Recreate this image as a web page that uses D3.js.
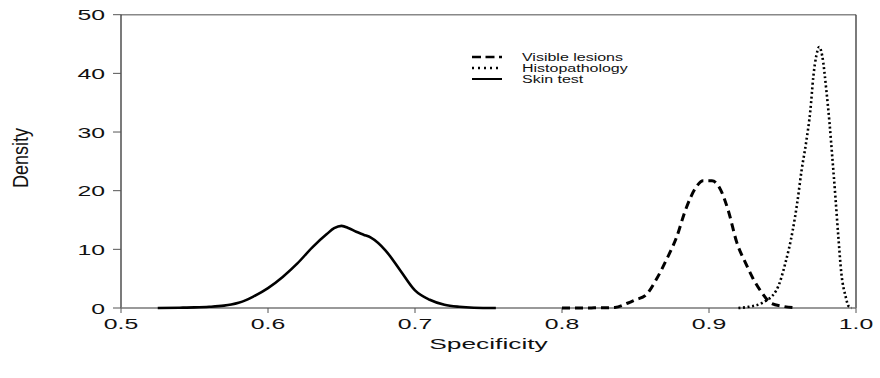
<!DOCTYPE html>
<html><head><meta charset="utf-8">
<script src="https://cdn.jsdelivr.net/npm/d3@7"></script>
<style>body{margin:0;background:#fff}svg{display:block}text{font-family:"Liberation Sans",Arial,sans-serif;fill:#111}</style>
</head><body>
<svg id="c" width="880" height="378"></svg>
<script>
const xTicks = [0.5, 0.6, 0.7, 0.8, 0.9, 1.0];
const yTicks = [0, 10, 20, 30, 40, 50];
const seriesNames = ["Visible lesions", "Histopathology", "Skin test"];

const skinX = [0.525,0.54,0.55,0.56,0.57,0.575,0.58,0.585,0.59,0.60,0.61,0.62,0.63,0.64,0.645,0.65,0.655,0.66,0.665,0.67,0.68,0.69,0.70,0.71,0.72,0.73,0.74,0.755];
const skinY = [0,0.05,0.1,0.2,0.4,0.6,0.9,1.35,1.95,3.4,5.3,7.6,10.3,12.6,13.6,14.0,13.6,13.0,12.5,12.0,9.8,6.4,3.0,1.4,0.55,0.2,0.05,0];

const lesX = [0.80,0.82,0.83,0.836,0.845,0.85,0.857,0.864,0.871,0.878,0.884,0.891,0.896,0.902,0.908,0.913,0.919,0.925,0.93,0.936,0.942,0.95,0.96];
const lesY = [0,0.02,0.05,0.1,0.85,1.4,2.2,4.8,8.2,12.1,16.7,20.5,21.7,21.7,20.1,16.7,11.1,7.6,5.0,2.6,0.85,0.3,0];

const hisX = [0.92,0.927,0.936,0.946,0.952,0.957,0.960,0.963,0.966,0.969,0.971,0.973,0.975,0.977,0.980,0.982,0.984,0.986,0.988,0.990,0.993,0.995,0.997];
const hisY = [0,0.2,0.85,3.1,7.7,13.3,17.9,23.5,28.1,33.8,39.5,43.0,44.5,43.0,36.7,31.5,25.3,18.9,12.1,6.0,1.9,0.3,0];

const svg = d3.select("#c");
const L = 121, R = 856, T = 14.7, B = 308;
const x = d3.scaleLinear().domain([0.5, 1.0]).range([L, R]);
const y = d3.scaleLinear().domain([0, 50]).range([B, T]);
const SX = 1.6;

// frame
svg.append("line").attr("x1",L).attr("x2",R).attr("y1",T).attr("y2",T).attr("stroke","#888").attr("stroke-width",1.4);
svg.append("line").attr("x1",R).attr("x2",R).attr("y1",T).attr("y2",B).attr("stroke","#444").attr("stroke-width",1.4);
svg.append("line").attr("x1",L).attr("x2",L).attr("y1",T).attr("y2",B).attr("stroke","#222").attr("stroke-width",1.2);
svg.append("line").attr("x1",L).attr("x2",R).attr("y1",B).attr("y2",B).attr("stroke","#777").attr("stroke-width",1.4);

// y ticks
yTicks.forEach(v => {
  svg.append("line").attr("x1",L-8).attr("x2",L).attr("y1",y(v)).attr("y2",y(v)).attr("stroke","#555").attr("stroke-width",1);
  svg.append("text").attr("transform",`translate(105,${y(v)}) scale(${SX},1)`)
    .attr("text-anchor","end").attr("dy","0.36em").attr("font-size",15.5).text(d3.format("d")(v));
});
// x ticks
xTicks.forEach(v => {
  svg.append("line").attr("x1",x(v)).attr("x2",x(v)).attr("y1",B).attr("y2",B+5).attr("stroke","#555").attr("stroke-width",1);
  svg.append("text").attr("transform",`translate(${x(v)},328.5) scale(${SX},1)`)
    .attr("text-anchor","middle").attr("font-size",15.5).text(d3.format(".1f")(v));
});
svg.append("text").attr("transform",`translate(${(L+R)/2},349) scale(1.7,1)`)
  .attr("text-anchor","middle").attr("font-size",15.5).text("Specificity");
svg.append("text").attr("transform",`translate(28,158) scale(1.25,1) rotate(-90)`)
  .attr("text-anchor","middle").attr("font-size",18).text("Density");

const line = d3.line().x(d=>x(d[0])).y(d=>y(d[1])).curve(d3.curveMonotoneX);
const styles = [
  {dash:"8,5", w:3},
  {dash:"2,2.6", w:2.6},
  {dash:null, w:2.6}
];
const data = [d3.zip(lesX, lesY), d3.zip(hisX, hisY), d3.zip(skinX, skinY)];
data.forEach((d,i) => {
  const p = svg.append("path").attr("d", line(d)).attr("fill","none").attr("stroke","#000")
    .attr("stroke-width", styles[i].w).attr("stroke-linejoin","round");
  if (styles[i].dash) p.attr("stroke-dasharray", styles[i].dash);
});

// legend
const legY = [57, 68, 79];
seriesNames.forEach((n,i) => {
  const l = svg.append("line").attr("x1",472).attr("x2",502).attr("y1",legY[i]).attr("y2",legY[i])
    .attr("stroke","#000").attr("stroke-width", i==2 ? 2 : 2.4);
  if (i==0) l.attr("stroke-dasharray","9,4.5");
  if (i==1) l.attr("stroke-dasharray","2,4");
  svg.append("text").attr("transform",`translate(522,${legY[i]}) scale(1.6,1)`)
    .attr("dy","0.35em").attr("font-size",10).text(n);
});
</script>
</body></html>
